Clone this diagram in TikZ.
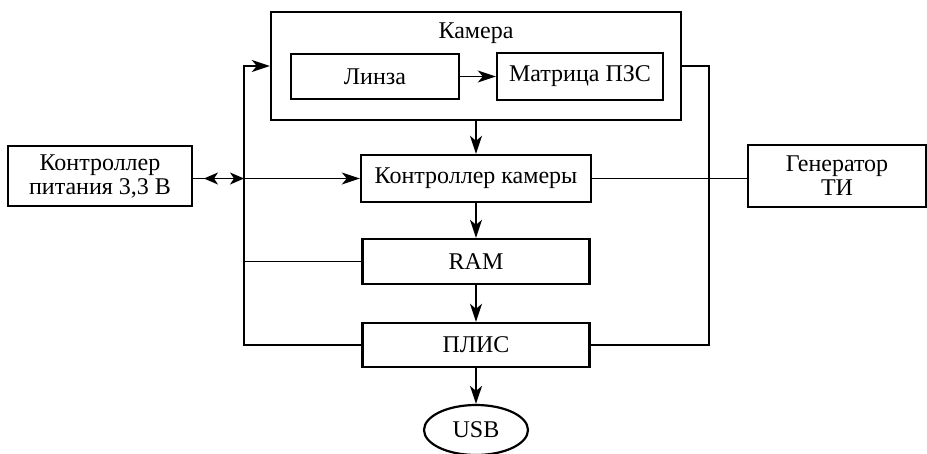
\documentclass[tikz,border=0pt]{standalone}
\usepackage{fontspec}
\setmainfont{Liberation Serif}
\newfontfamily\diagfont{Liberation Serif}
\usetikzlibrary{arrows.meta,shapes.geometric}
\begin{document}
\begin{tikzpicture}[x=1pt,y=-1pt,
  box/.style={draw, line width=2.4pt, inner sep=0pt, align=center},
  conn/.style={line width=1.8pt},
  arr/.style={conn, -{Stealth[length=18pt,width=12pt,inset=5pt]}},
  sarr/.style={conn, -{Stealth[length=14pt,width=12pt,inset=4pt]}},
  font=\diagfont\fontsize{24}{24}\selectfont]
\useasboundingbox (0,0) rectangle (927,453);
\node[box, minimum width=184, minimum height=60] (pit) at (100,176) {Контроллер\\питания 3,3 В};
\node[box, minimum width=410, minimum height=108] (cam) at (476,66) {};
\node (camlbl) at (476,33) {Камера};
\node[box, minimum width=168, minimum height=45] (lens) at (375,76.5) {Линза};
\node[box, minimum width=166, minimum height=47] (matr) at (580,76.5) {Матрица ПЗС};
\node[box, minimum width=230, minimum height=47] (kk) at (476,178.5) {Контроллер камеры};
\node[box, minimum width=178, minimum height=62] (gen) at (837,176) {Генератор\\ТИ};
\node[box, minimum width=227, minimum height=45] (ram) at (476,261.5) {RAM};
\node[box, minimum width=227, minimum height=44] (plis) at (476,345) {ПЛИС};
\node[draw, line width=2.2pt, ellipse, inner sep=0pt, minimum width=104, minimum height=50] (usb) at (476,430) {USB};
\coordinate (lt) at (244,66);
\coordinate (rt) at (709,66);
\coordinate (j) at (244,178.5);
\coordinate (m) at (222,178.5);
\coordinate (lp) at (204,178.5);
% left bus
\draw[arr] (plis.west) -| (lt) -- (cam.west |- lt);
\draw[conn] (ram.west) -- (ram.west -| lt);
\draw[arr] (j) -- (kk.west);
\draw[conn] (pit.east |- j) -- (j);
\draw[sarr] (m) -- (lp);
\draw[sarr] (m) -- (j);
% right bus
\draw[conn] (plis.east) -| (rt) -- (cam.east |- rt);
\draw[conn] (kk.east) -- (kk.east -| gen.west);
% vertical chain
\draw[arr] (lens.east) -- (matr.west |- lens.east);
\draw[arr] (cam.south) -- (kk.north);
\draw[arr] (kk.south) -- (ram.north);
\draw[arr] (ram.south) -- (plis.north);
\draw[arr] (plis.south) -- (usb.north);
\end{tikzpicture}
\end{document}
